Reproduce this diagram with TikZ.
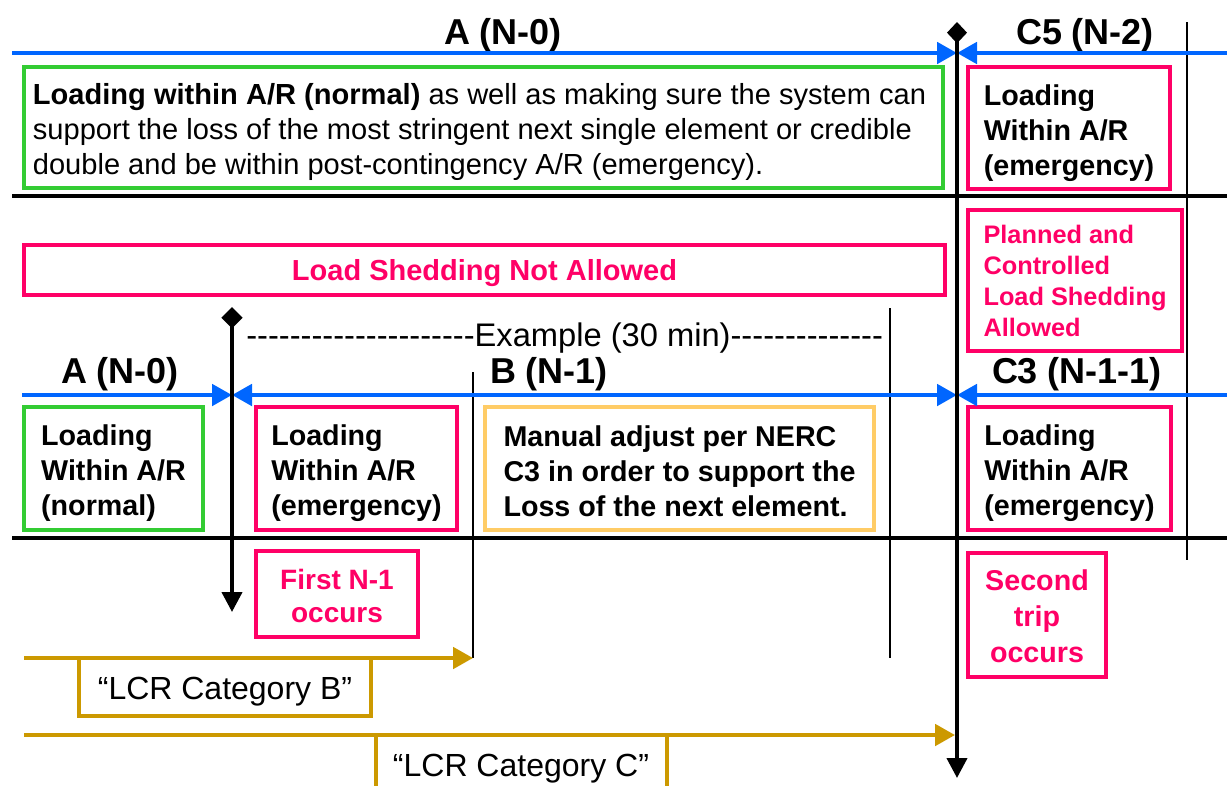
\documentclass[tikz,border=0pt]{standalone}
\usepackage{fontspec}
\setmainfont{Liberation Sans}
\usetikzlibrary{arrows.meta}
\definecolor{pk}{HTML}{FF0066}
\definecolor{grn}{HTML}{33CC33}
\definecolor{blu}{HTML}{0066FF}
\definecolor{ylw}{HTML}{FFCC66}
\definecolor{gld}{HTML}{CC9900}
\begin{document}
\begin{tikzpicture}[x=0.75pt,y=-0.75pt,
  box/.style={draw, line width=3pt, inner sep=0pt},
  txt/.style={align=left, inner sep=0pt},
  ctxt/.style={align=center, inner sep=0pt},
  sz/.style 2 args={minimum width=#1*0.75pt, minimum height=#2*0.75pt},
  bodyb/.style={font=\fontsize{21.5}{26.25}\selectfont\bfseries},
  head/.style={font=\fontsize{27}{32}\selectfont\bfseries, inner sep=0pt},
  reg/.style={font=\fontsize{24}{28}\selectfont, inner sep=0pt},
  tip/.style={-{Triangle[length=15pt,width=16pt]}},
  dtip/.style={{Triangle[length=15pt,width=16pt]}-{Triangle[length=15pt,width=16pt]}},
  blueln/.style={draw=blu, line width=3pt},
  goldln/.style={draw=gld, line width=3pt},
  blackln/.style={draw=black, line width=3pt},
  thinln/.style={draw=black, line width=1.1pt},
]
\useasboundingbox (0,0) rectangle (1227,786);

% coordinates
\coordinate (bt0) at (12,53);
\coordinate (bt1) at (957,53);
\coordinate (bt2) at (1227,53);
\coordinate (bm0) at (22,395);
\coordinate (bm1) at (232,395);
\coordinate (bm2) at (957,395);
\coordinate (bm3) at (1227,395);
\coordinate (v1t) at (957,22);
\coordinate (v1b) at (957,778);
\coordinate (v2t) at (232,307);
\coordinate (v2b) at (232,612);
\coordinate (h1a) at (12,196);
\coordinate (h1b) at (1227,196);
\coordinate (h2a) at (12,538);
\coordinate (h2b) at (1227,538);
\coordinate (t1a) at (1187,22);
\coordinate (t1b) at (1187,560);
\coordinate (t2a) at (890,308);
\coordinate (t2b) at (890,658);
\coordinate (t3a) at (473,372);
\coordinate (t3b) at (473,658);
\coordinate (gb0) at (24,658);
\coordinate (gc0) at (24,735);
\coordinate (gc1) at (955,735);
\coordinate (cl1) at (376,735);
\coordinate (cl2) at (376,786);
\coordinate (cr1) at (667,735);
\coordinate (cr2) at (667,786);

% black separators
\draw[blackln] (h1a) -- (h1b);
\draw[blackln] (h2a) -- (h2b);
% thin verticals
\draw[thinln] (t1a) -- (t1b);
\draw[thinln] (t2a) -- (t2b);
\draw[thinln] (t3a) -- (t3b);

% headers
\node[head] (hA0) at (503,35) {A (N-0)};
\node[head] (hC5) at (1085,35) {C5 (N-2)};
\node[head] (hA0m) at (120,374) {A (N-0)};
\node[head] (hB1) at (549,374) {B (N-1)};
\node[head] (hC3) at (1077,374) {C3 (N-1-1)};

% boxes
\node[box, draw=grn, sz={919}{121}] (g1) at (483.5,127.5) {};
\node[txt, font=\fontsize{21.8}{26.25}\selectfont] (g1t) at ([xshift=-3pt,yshift=-3.5pt]g1.center)
  {\textbf{Loading within A/R (normal)} as well as making sure the system can\\
   support the loss of the most stringent next single element or credible\\
   double and be within post-contingency A/R (emergency).};
\node[box, draw=pk, sz={202}{122}] (p1) at (1069,128) {};
\node[txt, bodyb] (p1t) at ([yshift=-3.5pt]p1.center) {Loading\\Within A/R\\(emergency)};
\node[box, draw=pk, sz={921}{50}] (shed) at (484.5,270) {};
\node[ctxt, text=pk, font=\fontsize{21.75}{26}\selectfont\bfseries] (shedt) at ([yshift=-2pt]shed.center) {Load Shedding Not Allowed};
\node[box, draw=pk, sz={214}{141}] (plan) at (1075,280.5) {};
\node[txt, text=pk, font=\fontsize{19}{23.25}\selectfont\bfseries] (plant) at ([yshift=-0.7pt]plan.center) {Planned and\\Controlled\\Load Shedding\\Allowed};
\node[box, draw=grn, sz={179}{123}] (g2) at (113.5,468.5) {};
\node[txt, bodyb] (g2t) at ([yshift=-3.5pt]g2.center) {Loading\\Within A/R\\(normal)};
\node[box, draw=pk, sz={201}{123}] (p2) at (356.5,468.5) {};
\node[txt, bodyb] (p2t) at ([yshift=-3.5pt]p2.center) {Loading\\Within A/R\\(emergency)};
\node[box, draw=ylw, sz={389}{123}] (y1) at (679.5,468.5) {};
\node[txt, bodyb] (y1t) at ([yshift=-1.8pt]y1.center) {Manual adjust per NERC\\C3 in order to support the\\Loss of the next element.};
\node[box, draw=pk, sz={203}{123}] (p3) at (1069.5,468.5) {};
\node[txt, bodyb] (p3t) at ([yshift=-3.5pt]p3.center) {Loading\\Within A/R\\(emergency)};
\node[box, draw=pk, sz={162}{86}] (first) at (337,594) {};
\node[ctxt, text=pk, font=\fontsize{21}{24.75}\selectfont\bfseries] (firstt) at ([yshift=-1.5pt]first.center) {First N-1\\occurs};
\node[box, draw=pk, sz={138}{124}] (second) at (1037,615) {};
\node[ctxt, text=pk, font=\fontsize{21.5}{27}\selectfont\bfseries] (secondt) at ([yshift=-0.8pt]second.center) {Second\\trip\\occurs};

% example text
\node[font=\fontsize{24.5}{28}\selectfont, inner sep=0pt, anchor=west] (ex) at (246,338) {-{}-{}-{}-{}-{}-{}-{}-{}-{}-{}-{}-{}-{}-{}-{}-{}-{}-{}-{}-{}-Example (30 min)-{}-{}-{}-{}-{}-{}-{}-{}-{}-{}-{}-{}-{}-};

% LCR
\node[box, draw=gld, sz={292}{58}] (lcrb) at (225,687) {};
\node[reg] (lcrbt) at ([yshift=-3.5pt]lcrb.center) {“LCR Category B”};
\draw[goldln] (cl1) -- (cl2);
\draw[goldln] (cr1) -- (cr2);
\node[reg] (lcrc) at (521,769) {“LCR Category C”};
\draw[goldln, tip] (gb0) -- (t3b);
\draw[goldln, tip] (gc0) -- (gc1);

% blue timelines
\draw[blueln, tip] (bt0) -- (bt1);
\draw[blueln, tip] (bt2) -- (bt1);
\draw[blueln, tip] (bm0) -- (bm1);
\draw[blueln, dtip] (bm1) -- (bm2);
\draw[blueln, tip] (bm3) -- (bm2);

% black event lines
\draw[blackln, {Diamond[length=16pt,width=15pt]}-{Triangle[length=15pt,width=15pt]}] (v1t) -- (v1b);
\draw[blackln, {Diamond[length=16pt,width=16pt]}-{Triangle[length=15pt,width=15pt]}] (v2t) -- (v2b);
\end{tikzpicture}
\end{document}
